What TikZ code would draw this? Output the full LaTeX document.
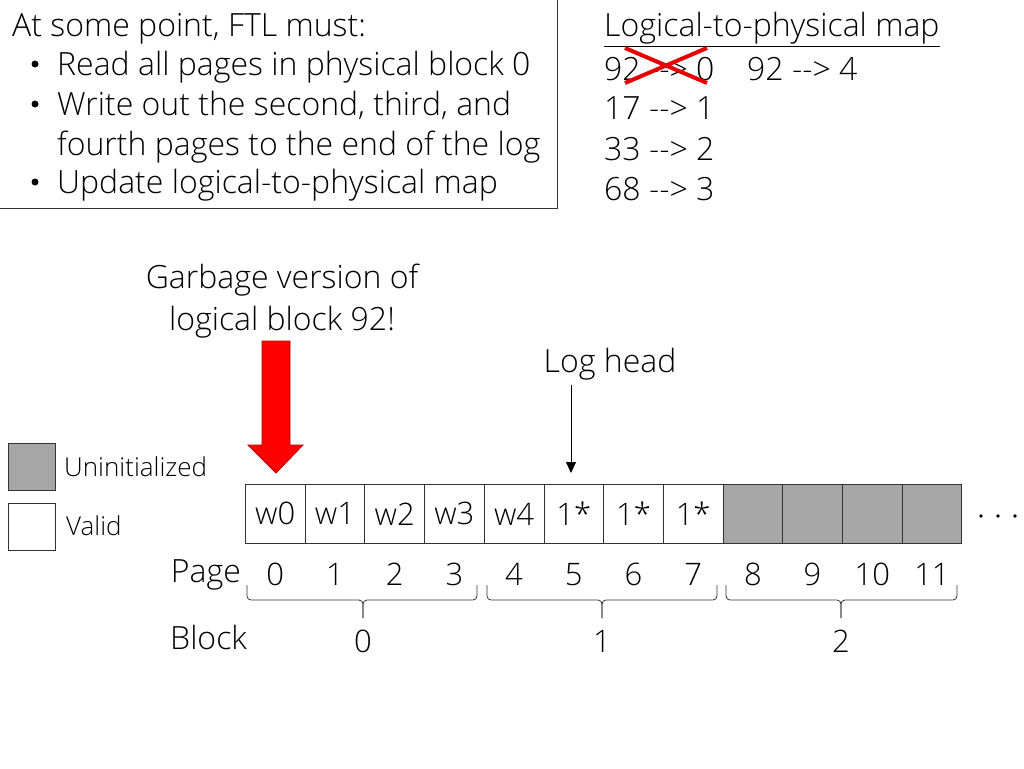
\documentclass[tikz,border=0pt]{standalone}
\usepackage{fontspec}
\setmainfont{Open Sans Light}
\usetikzlibrary{arrows.meta,calc}
\begin{document}
\begin{tikzpicture}[x=1pt,y=-1pt,
  txt/.style={inner sep=0pt,font=\fontsize{32}{40}\selectfont},
  small/.style={inner sep=0pt,font=\fontsize{26}{30}\selectfont},
  bul/.style={circle,fill=black,inner sep=0pt,minimum size=7pt},
  cell/.style={draw=black!80,line width=0.8pt,minimum width=59.7pt,minimum height=59pt,inner sep=0pt,anchor=north west,font=\fontsize{31}{34}\selectfont},
  gcell/.style={cell,fill=black!35},
  num/.style={inner sep=0pt,anchor=base,font=\fontsize{31}{34}\selectfont},
  brk/.style={draw=black!80,line width=0.8pt,rounded corners=4pt}]
\useasboundingbox (0,0) rectangle (1024,768);
% top-left text box
\draw[black!80,line width=0.9pt] (-2,-2) rectangle (557,208);
\node[txt,anchor=base west] (t0) at (12,37) {At some point, FTL must:};
\node[bul] (b1) at (35,64) {};
\node[txt,anchor=base west] (t1) at (57,75) {Read all pages in physical block 0};
\node[bul] (b2) at (35,104) {};
\node[txt,anchor=base west] (t2) at (57,115) {Write out the second, third, and};
\node[txt,anchor=base west] (t3) at (57,155) {fourth pages to the end of the log};
\node[bul] (b3) at (35,182) {};
\node[txt,anchor=base west] (t4) at (57,193) {Update logical-to-physical map};
% map
\node[txt,anchor=base west] (m0) at (604,37) {\underline{Logical-to-physical map}};
\node[txt,anchor=base west] (m1) at (604,80) {92 -{}-> 0};
\node[txt,anchor=base west] (m1b) at (747,80) {92 -{}-> 4};
\node[txt,anchor=base west] (m2) at (604,119) {17 -{}-> 1};
\node[txt,anchor=base west] (m3) at (604,160) {33 -{}-> 2};
\node[txt,anchor=base west] (m4) at (604,200) {68 -{}-> 3};
\draw[red!90!black,line width=4pt] (625,48) -- (707,83) (625,83) -- (707,48);
% garbage label & arrow
\node[txt,anchor=base] (g1) at (282,288) {Garbage version of};
\node[txt,anchor=base] (g2) at (282,330) {logical block 92!};
\draw[fill=red,draw=red!70!black,line width=0.8pt] (262,341) -- (290,341) -- (290,445) -- (303,445) -- (276,473) -- (248,445) -- (262,445) -- cycle;
% log head
\node[txt,anchor=base] (lh) at (610,372) {Log head};
\coordinate (lhtip) at (571,473);
\draw[-{Triangle[length=11pt,width=10pt]},line width=0.8pt] (571,385) -- (lhtip);
% legend
\node[draw=black!80,fill=black!35,line width=0.8pt,minimum width=47pt,minimum height=47pt,inner sep=0pt,anchor=north west] (lg1) at (8,443) {};
\node[small,anchor=base west] (lt1) at (64,476) {Uninitialized};
\node[draw=black!80,fill=white,line width=0.8pt,minimum width=47pt,minimum height=47pt,inner sep=0pt,anchor=north west] (lg2) at (8,503) {};
\node[small,anchor=base west] (lt2) at (66,535) {Valid};
% cells
\node[cell] (c0) at (245,484) {w0};
\node[cell] (c1) at (304.7,484) {w1};
\node[cell] (c2) at (364.4,484) {w2};
\node[cell] (c3) at (424.1,484) {w3};
\node[cell] (c4) at (483.8,484) {w4};
\node[cell] (c5) at (543.5,484) {1*};
\node[cell] (c6) at (603.2,484) {1*};
\node[cell] (c7) at (662.9,484) {1*};
\node[gcell] (c8) at (722.6,484) {};
\node[gcell] (c9) at (782.3,484) {};
\node[gcell] (c10) at (842,484) {};
\node[gcell] (c11) at (901.7,484) {};
\foreach \x/\n in {981/d1,998/d2,1015/d3} \fill (\x,516) circle (1.8pt);
% page numbers
\node[txt,anchor=base east] (pg) at (241,582) {Page};
\foreach \i in {0,...,11} \node[num] (p\i) at ($(c\i.south)+(0,42)$) {\i};
% braces
\draw[brk] (247,585) -- (247,600) -- (363,600) -- (363,618);
\draw[brk] (363,618) -- (363,600) -- (477,600) -- (477,585);
\draw[brk] (487,585) -- (487,600) -- (602,600) -- (602,618);
\draw[brk] (602,618) -- (602,600) -- (717,600) -- (717,585);
\draw[brk] (726,585) -- (726,600) -- (841,600) -- (841,618);
\draw[brk] (841,618) -- (841,600) -- (957,600) -- (957,585);
\node[txt,anchor=base west] (bl) at (170,649) {Block};
\node[num] (k0) at (363,652) {0};
\node[num] (k1) at (602,652) {1};
\node[num] (k2) at (841,652) {2};
\end{tikzpicture}
\end{document}
